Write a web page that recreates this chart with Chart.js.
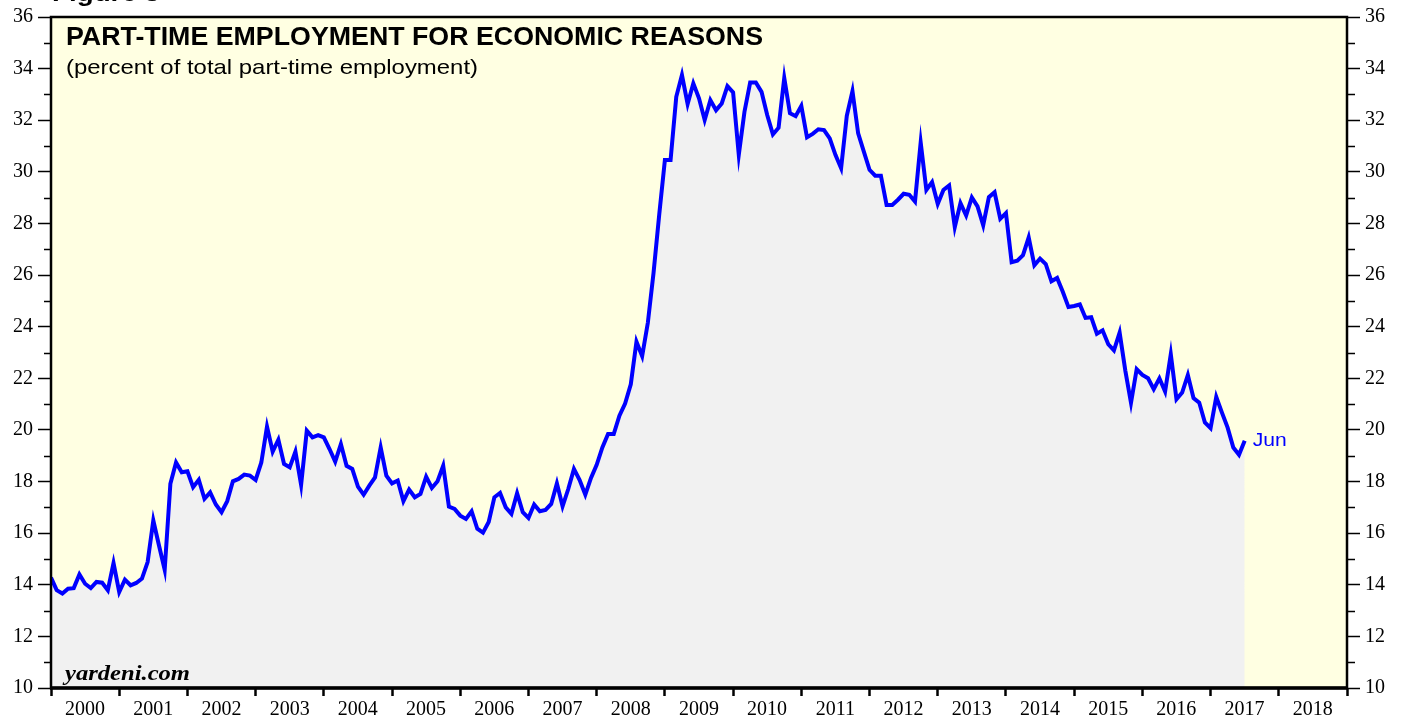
<!DOCTYPE html>
<html>
<head>
<meta charset="utf-8">
<title>Part-Time Employment for Economic Reasons</title>
<script src="https://cdn.jsdelivr.net/npm/chart.js@4.4.1/dist/chart.umd.min.js"></script>
<style>
    html, body { margin: 0; padding: 0; background: #ffffff; }
    #chart { display: block; }
</style>
</head>
<body>
<canvas id="chart" width="1407" height="719"></canvas>
<script>
// Year labels on the bottom axis
const yearLabels = [2000, 2001, 2002, 2003, 2004, 2005, 2006, 2007, 2008, 2009,
    2010, 2011, 2012, 2013, 2014, 2015, 2016, 2017, 2018];

// Monthly values, Dec 1999 .. Jun 2017 (plotted at month end)
const partTimeShare = [
    14.28, 13.79, 13.66, 13.85, 13.87, 14.40, 14.04, 13.87, 14.11, 14.08,
    13.79, 14.84, 13.72, 14.20, 13.98, 14.07, 14.24, 14.88, 16.49, 15.52,
    14.58, 17.91, 18.74, 18.36, 18.40, 17.78, 18.07, 17.33, 17.58, 17.11,
    16.81, 17.24, 18.01, 18.10, 18.27, 18.23, 18.06, 18.74, 20.13, 19.16,
    19.62, 18.68, 18.55, 19.16, 17.87, 19.97, 19.71, 19.80, 19.71, 19.26,
    18.77, 19.45, 18.61, 18.49, 17.80, 17.49, 17.84, 18.16, 19.32, 18.23,
    17.93, 18.04, 17.24, 17.69, 17.39, 17.52, 18.19, 17.75, 18.01, 18.61,
    17.03, 16.94, 16.68, 16.55, 16.85, 16.17, 16.02, 16.43, 17.39, 17.56,
    17.00, 16.75, 17.55, 16.81, 16.59, 17.11, 16.85, 16.90, 17.13, 17.93,
    17.04, 17.71, 18.49, 18.06, 17.49, 18.14, 18.65, 19.32, 19.84, 19.84,
    20.55, 21.02, 21.77, 23.42, 22.86, 24.15, 26.08, 28.34, 30.46, 30.46,
    32.91, 33.75, 32.63, 33.43, 32.85, 32.01, 32.78, 32.39, 32.65, 33.32,
    33.08, 30.66, 32.33, 33.46, 33.46, 33.10, 32.20, 31.45, 31.71, 33.64,
    32.27, 32.16, 32.56, 31.34, 31.47, 31.65, 31.62, 31.30, 30.66, 30.14,
    32.17, 33.13, 31.49, 30.78, 30.08, 29.85, 29.85, 28.72, 28.72, 28.92,
    29.15, 29.11, 28.85, 31.14, 29.30, 29.60, 28.76, 29.30, 29.47, 27.86,
    28.79, 28.31, 29.01, 28.66, 27.93, 29.02, 29.21, 28.18, 28.40, 26.50,
    26.56, 26.77, 27.46, 26.38, 26.64, 26.43, 25.76, 25.89, 25.35, 24.76,
    24.80, 24.86, 24.34, 24.37, 23.73, 23.86, 23.32, 23.08, 23.77, 22.30,
    21.05, 22.35, 22.13, 22.00, 21.58, 22.00, 21.49, 22.93, 21.19, 21.45,
    22.13, 21.23, 21.06, 20.29, 20.07, 21.28, 20.67, 20.09, 19.32, 19.04,
    19.58
];

const lastLabel = 'Jun';
const yMin = 10, yMax = 36;

const points = partTimeShare.map((v, i) => ({ x: yearLabels[0] + i / 12, y: v }));

const serif = '"Liberation Serif", "Times New Roman", serif';
const sans = '"Liberation Sans", Arial, Helvetica, sans-serif';

// Draw text squeezed/stretched horizontally to a given width (the original type is wide)
function wideText(ctx, text, x, y, width) {
    const w = ctx.measureText(text).width;
    ctx.save();
    ctx.translate(x, y);
    ctx.scale(width / w, 1);
    ctx.fillText(text, 0, 0);
    ctx.restore();
}

// Yellow plot background
const backgroundPlugin = {
    id: 'plotBackground',
    beforeDatasetsDraw(chart) {
        const a = chart.chartArea;
        const ctx = chart.ctx;
        ctx.save();
        ctx.fillStyle = '#ffffe2';
        ctx.fillRect(a.left, a.top, a.right - a.left, a.bottom - a.top);
        ctx.restore();
    }
};

// Frame, minor ticks and texts
const decorPlugin = {
    id: 'decor',
    afterDraw(chart) {
        const a = chart.chartArea;
        const ctx = chart.ctx;
        const y = chart.scales.y;
        const x = chart.scales.x;
        ctx.save();

        // minor ticks on odd values
        ctx.strokeStyle = '#000';
        ctx.lineWidth = 1.5;
        for (let v = yMin + 1; v < yMax; v += 2) {
            const py = Math.round(y.getPixelForValue(v)) + 0.5;
            ctx.beginPath();
            ctx.moveTo(a.left - 7, py);
            ctx.lineTo(a.left, py);
            ctx.moveTo(a.right, py);
            ctx.lineTo(a.right + 8, py);
            ctx.stroke();
        }

        // frame
        ctx.lineWidth = 2.5;
        ctx.strokeRect(a.left, a.top, a.right - a.left, a.bottom - a.top);
        ctx.lineWidth = 3.5;
        ctx.beginPath();
        ctx.moveTo(a.left - 1, a.bottom);
        ctx.lineTo(a.right + 1, a.bottom);
        ctx.stroke();

        // titles
        ctx.fillStyle = '#000';
        ctx.textBaseline = 'alphabetic';
        ctx.textAlign = 'left';
        ctx.font = 'bold 24px ' + sans;
        wideText(ctx, 'Figure 5', 52, 1, 108);
        ctx.font = 'bold 25px ' + sans;
        wideText(ctx, 'PART-TIME EMPLOYMENT FOR ECONOMIC REASONS', 66, 45, 697);
        ctx.font = '21px ' + sans;
        wideText(ctx, '(percent of total part-time employment)', 66, 74, 412);

        ctx.font = 'italic bold 22px ' + serif;
        wideText(ctx, 'yardeni.com', 65, 680, 125);

        // last month label
        const last = points[points.length - 1];
        ctx.fillStyle = '#0000ff';
        ctx.font = '19px ' + sans;
        ctx.textBaseline = 'middle';
        wideText(ctx, lastLabel, x.getPixelForValue(last.x) + 8, y.getPixelForValue(last.y), 34);
        ctx.restore();
    }
};

const yTicks = {
    stepSize: 1,
    color: '#000',
    padding: 5,
    font: { family: serif, size: 20 },
    callback: v => (v % 2 === 0 ? String(v) : '')
};

const yGrid = {
    drawOnChartArea: false,
    drawTicks: true,
    tickLength: 13,
    tickWidth: 1.5,
    tickColor: c => (c.tick && c.tick.value % 2 === 0 ? '#000' : 'rgba(0,0,0,0)')
};

new Chart(document.getElementById('chart'), {
    type: 'line',
    data: {
        datasets: [{
            data: points,
            borderColor: '#0000ff',
            borderWidth: 4,
            backgroundColor: '#f1f1f1',
            fill: 'start',
            pointRadius: 0,
            tension: 0
        }]
    },
    options: {
        responsive: false,
        animation: false,
        devicePixelRatio: 1,
        layout: { padding: { top: 15, left: 0, right: 0, bottom: 0 } },
        plugins: {
            legend: { display: false },
            tooltip: { enabled: false }
        },
        scales: {
            x: {
                type: 'linear',
                min: yearLabels[0],
                max: yearLabels[yearLabels.length - 1] + 1,
                afterFit: s => { s.height = 31; },
                ticks: {
                    stepSize: 1,
                    autoSkip: false,
                    maxRotation: 0,
                    labelOffset: 34,
                    padding: 2,
                    color: '#000',
                    font: { family: serif, size: 20 },
                    callback: v => (yearLabels.includes(v) ? String(v) : '')
                },
                grid: {
                    drawOnChartArea: false,
                    drawTicks: true,
                    tickLength: 8,
                    tickWidth: 2.5,
                    tickColor: '#000'
                },
                border: { display: false }
            },
            y: {
                position: 'left',
                min: yMin,
                max: yMax,
                afterFit: s => { s.width = 51; },
                ticks: yTicks,
                grid: yGrid,
                border: { display: false }
            },
            y2: {
                position: 'right',
                min: yMin,
                max: yMax,
                afterFit: s => { s.width = 60; },
                ticks: yTicks,
                grid: yGrid,
                border: { display: false }
            }
        }
    },
    plugins: [backgroundPlugin, decorPlugin]
});
</script>
</body>
</html>
